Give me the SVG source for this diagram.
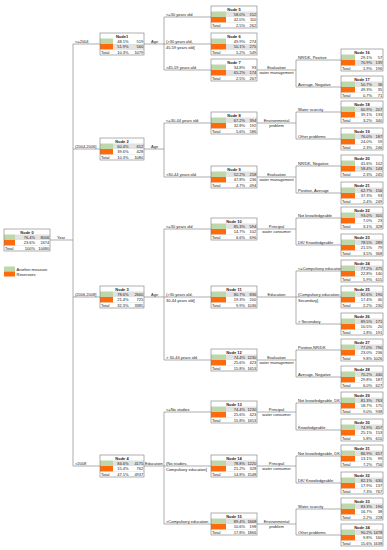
<svg xmlns="http://www.w3.org/2000/svg" width="387" height="550" viewBox="0 0 387 550">
<style>
text{font-family:"Liberation Sans",Arial,sans-serif;font-size:4px;fill:#222}
.h{font-weight:bold;text-anchor:middle}
.r{text-anchor:end}
.m{text-anchor:middle}
.box{fill:none;stroke:#7a7a7a;stroke-width:0.6}
.bg{fill:#fff}
.g{fill:#bdd7ab}
.o{fill:#ff6a0a}
.hl{fill:#e2e2e2}
.sep{stroke:#c8c8c8;stroke-width:0.3}
#connectors path{fill:none;stroke:#8a8a8a;stroke-width:0.7}
</style>
<rect width="387" height="550" fill="#fff"/>
<g id="connectors">
<path d="M50,240H73M73,44V466M73,44H100M73,149H100M73,297H100M73,466H100"/>
<path d="M144,44H164M164,17V70M164,17H211M164,44H211M164,70H211"/>
<path d="M144,149H164M164,123V177M164,123H211M164,177H211"/>
<path d="M144,297H164M164,229V360M164,229H211M164,297H211M164,360H211"/>
<path d="M144,466H164M164,412V524M164,412H211M164,466H211M164,524H211"/>
<path d="M257,70H296M296,60V87M296,60H341M296,87H341"/>
<path d="M257,123H296M296,112V139M296,112H341M296,139H341"/>
<path d="M257,177H296M296,166V193M296,166H341M296,193H341"/>
<path d="M257,229H296M296,218V245M296,218H341M296,245H341"/>
<path d="M257,297H296M296,271V324M296,271H341M296,297H341M296,324H341"/>
<path d="M257,360H296M296,350V377M296,350H341M296,377H341"/>
<path d="M257,412H296M296,403V430M296,403H341M296,430H341"/>
<path d="M257,466H296M296,456V483M296,456H341M296,483H341"/>
<path d="M257,524H296M296,509V535M296,509H341M296,535H341"/>
</g>
<g id="labels">
<text x="57" y="238.8">Year</text>
<text x="75" y="43.2">&lt;=2004</text>
<text x="75" y="148.2">(2004,2006]</text>
<text x="75" y="296.2">(2006,2008]</text>
<text x="75" y="465.2">&gt;2008</text>
<text x="151" y="43">Age</text>
<text x="151" y="148">Age</text>
<text x="151" y="296">Age</text>
<text x="145" y="465">Education</text>
<text x="166" y="16.3">&lt;=30 years old</text>
<text x="166" y="43.3">(&gt;30 years old,</text>
<text x="166" y="48.6">45-59 years old]</text>
<text x="166" y="69.3">&gt;45-59 years old</text>
<text x="166" y="122.3">&lt;=30-44 years old</text>
<text x="166" y="176.3">&gt;30-44 years old</text>
<text x="166" y="228.3">&lt;=30 years old</text>
<text x="166" y="296.3">(&gt;30 years old,</text>
<text x="166" y="301.6">30-44 years old]</text>
<text x="166" y="359.3">&gt; 30-44 years old</text>
<text x="166" y="411.3">&lt;=No studies</text>
<text x="166" y="465.3">(No studies,</text>
<text x="166" y="470.6">Compulsory education]</text>
<text x="166" y="523.3">&gt;Compulsory education</text>
<text class="m" x="276.5" y="69">Evaluation</text>
<text class="m" x="276.5" y="74.3">water management</text>
<text class="m" x="276.5" y="122">Environmental</text>
<text class="m" x="276.5" y="127.3">problem</text>
<text class="m" x="276.5" y="176">Evaluation</text>
<text class="m" x="276.5" y="181.3">water management</text>
<text class="m" x="276.5" y="228">Principal</text>
<text class="m" x="276.5" y="233.3">water consumer</text>
<text class="m" x="276.5" y="296.3">Education</text>
<text class="m" x="276.5" y="359">Evaluation</text>
<text class="m" x="276.5" y="364.3">water management</text>
<text class="m" x="276.5" y="411">Principal</text>
<text class="m" x="276.5" y="416.3">water consumer</text>
<text class="m" x="276.5" y="465">Principal</text>
<text class="m" x="276.5" y="470.3">water consumer</text>
<text class="m" x="276.5" y="523">Environmental</text>
<text class="m" x="276.5" y="528.3">problem</text>
<text x="298" y="59.3">NR/DK, Positive</text>
<text x="298" y="86.3">Average, Negative</text>
<text x="298" y="111.3">Water scarcity</text>
<text x="298" y="138.3">Other problems</text>
<text x="298" y="165.3">NR/DK, Negative</text>
<text x="298" y="192.3">Positive, Average</text>
<text x="298" y="217.3">Not knowledgeable</text>
<text x="298" y="244.3">DK/ Knowledgeable</text>
<text x="298" y="270.3">&lt;=Compulsory education</text>
<text x="298" y="296.3">(Compulsory education,</text>
<text x="298" y="301.6">Secondary]</text>
<text x="298" y="323.3">&gt; Secondary</text>
<text x="298" y="349.3">Positive,NR/DK</text>
<text x="298" y="376.3">Average, Negative</text>
<text x="298" y="402.3">Not knowledgeable, DK</text>
<text x="298" y="429.3">Knowledgeable</text>
<text x="298" y="455.3">Not knowledgeable, DK</text>
<text x="298" y="482.3">DK/ Knowledgeable</text>
<text x="298" y="508.3">Water scarcity</text>
<text x="298" y="534.3">Other problems</text>
</g>
<g id="legend">
<rect class="g" x="4" y="266.5" width="11" height="5"/>
<rect class="o" x="4" y="271.5" width="11" height="5"/>
<text x="16.5" y="270.6">Another measure</text>
<text x="16.5" y="275.6">Reservoirs</text>
</g>

<g id="node0" transform="translate(4,229)"><rect class="bg" width="46" height="22"/><rect class="hl" x="11" y="5.5" width="35" height="5.5"/><rect class="g" y="5.5" width="11" height="5.5"/><rect class="o" y="11" width="11" height="5.5"/><line class="sep" x1="0" y1="16.5" x2="46" y2="16.5"/><rect class="box" width="46" height="22"/><text class="h" x="23" y="4.5">Node 0</text><text class="r" x="31" y="9.9">76.4%</text><text class="r" x="45.3" y="9.9">8006</text><text class="r" x="31" y="15.4">23.6%</text><text class="r" x="45.3" y="15.4">2474</text><text x="1" y="20.9">Total</text><text class="r" x="31" y="20.9">100%</text><text class="r" x="45.3" y="20.9">10480</text></g>

<g id="node1" transform="translate(100,33)"><rect class="bg" width="44" height="22"/><rect class="hl" x="13" y="11" width="31" height="5.5"/><rect class="g" y="5.5" width="13" height="5.5"/><rect class="o" y="11" width="13" height="5.5"/><line class="sep" x1="0" y1="16.5" x2="44" y2="16.5"/><rect class="box" width="44" height="22"/><text class="h" x="22" y="4.5">Node1</text><text class="r" x="28.5" y="9.9">48.1%</text><text class="r" x="43.3" y="9.9">519</text><text class="r" x="28.5" y="15.4">51.9%</text><text class="r" x="43.3" y="15.4">560</text><text x="1" y="20.9">Total</text><text class="r" x="28.5" y="20.9">10.3%</text><text class="r" x="43.3" y="20.9">1079</text></g>
<g id="node2" transform="translate(100,138)"><rect class="bg" width="44" height="22"/><rect class="hl" x="13" y="5.5" width="31" height="5.5"/><rect class="g" y="5.5" width="13" height="5.5"/><rect class="o" y="11" width="13" height="5.5"/><line class="sep" x1="0" y1="16.5" x2="44" y2="16.5"/><rect class="box" width="44" height="22"/><text class="h" x="22" y="4.5">Node 2</text><text class="r" x="28.5" y="9.9">60.4%</text><text class="r" x="43.3" y="9.9">652</text><text class="r" x="28.5" y="15.4">39.6%</text><text class="r" x="43.3" y="15.4">428</text><text x="1" y="20.9">Total</text><text class="r" x="28.5" y="20.9">10.3%</text><text class="r" x="43.3" y="20.9">1080</text></g>
<g id="node3" transform="translate(100,286)"><rect class="bg" width="44" height="22"/><rect class="hl" x="13" y="5.5" width="31" height="5.5"/><rect class="g" y="5.5" width="13" height="5.5"/><rect class="o" y="11" width="13" height="5.5"/><line class="sep" x1="0" y1="16.5" x2="44" y2="16.5"/><rect class="box" width="44" height="22"/><text class="h" x="22" y="4.5">Node 3</text><text class="r" x="28.5" y="9.9">78.6%</text><text class="r" x="43.3" y="9.9">2660</text><text class="r" x="28.5" y="15.4">21.4%</text><text class="r" x="43.3" y="15.4">725</text><text x="1" y="20.9">Total</text><text class="r" x="28.5" y="20.9">32.3%</text><text class="r" x="43.3" y="20.9">3385</text></g>
<g id="node4" transform="translate(100,455)"><rect class="bg" width="44" height="22"/><rect class="hl" x="13" y="5.5" width="31" height="5.5"/><rect class="g" y="5.5" width="13" height="5.5"/><rect class="o" y="11" width="13" height="5.5"/><line class="sep" x1="0" y1="16.5" x2="44" y2="16.5"/><rect class="box" width="44" height="22"/><text class="h" x="22" y="4.5">Node 4</text><text class="r" x="28.5" y="9.9">84.6%</text><text class="r" x="43.3" y="9.9">4175</text><text class="r" x="28.5" y="15.4">15.4%</text><text class="r" x="43.3" y="15.4">762</text><text x="1" y="20.9">Total</text><text class="r" x="28.5" y="20.9">47.1%</text><text class="r" x="43.3" y="20.9">4937</text></g>

<g id="node5" transform="translate(211,6)"><rect class="bg" width="46" height="22"/><rect class="hl" x="15" y="5.5" width="31" height="5.5"/><rect class="g" y="5.5" width="15" height="5.5"/><rect class="o" y="11" width="15" height="5.5"/><line class="sep" x1="0" y1="16.5" x2="46" y2="16.5"/><rect class="box" width="46" height="22"/><text class="h" x="23" y="4.5">Node 5</text><text class="r" x="34" y="9.9">58.0%</text><text class="r" x="45.3" y="9.9">152</text><text class="r" x="34" y="15.4">42.0%</text><text class="r" x="45.3" y="15.4">110</text><text x="1" y="20.9">Total</text><text class="r" x="34" y="20.9">2.5%</text><text class="r" x="45.3" y="20.9">262</text></g>
<g id="node6" transform="translate(211,33)"><rect class="bg" width="46" height="22"/><rect class="hl" x="15" y="11" width="31" height="5.5"/><rect class="g" y="5.5" width="15" height="5.5"/><rect class="o" y="11" width="15" height="5.5"/><line class="sep" x1="0" y1="16.5" x2="46" y2="16.5"/><rect class="box" width="46" height="22"/><text class="h" x="23" y="4.5">Node 6</text><text class="r" x="34" y="9.9">49.9%</text><text class="r" x="45.3" y="9.9">274</text><text class="r" x="34" y="15.4">50.1%</text><text class="r" x="45.3" y="15.4">275</text><text x="1" y="20.9">Total</text><text class="r" x="34" y="20.9">5.2%</text><text class="r" x="45.3" y="20.9">549</text></g>
<g id="node7" transform="translate(211,59)"><rect class="bg" width="46" height="22"/><rect class="hl" x="15" y="11" width="31" height="5.5"/><rect class="g" y="5.5" width="15" height="5.5"/><rect class="o" y="11" width="15" height="5.5"/><line class="sep" x1="0" y1="16.5" x2="46" y2="16.5"/><rect class="box" width="46" height="22"/><text class="h" x="23" y="4.5">Node 7</text><text class="r" x="34" y="9.9">34.8%</text><text class="r" x="45.3" y="9.9">93</text><text class="r" x="34" y="15.4">65.2%</text><text class="r" x="45.3" y="15.4">174</text><text x="1" y="20.9">Total</text><text class="r" x="34" y="20.9">2.5%</text><text class="r" x="45.3" y="20.9">267</text></g>
<g id="node8" transform="translate(211,112)"><rect class="bg" width="46" height="22"/><rect class="hl" x="15" y="5.5" width="31" height="5.5"/><rect class="g" y="5.5" width="15" height="5.5"/><rect class="o" y="11" width="15" height="5.5"/><line class="sep" x1="0" y1="16.5" x2="46" y2="16.5"/><rect class="box" width="46" height="22"/><text class="h" x="23" y="4.5">Node 8</text><text class="r" x="34" y="9.9">67.2%</text><text class="r" x="45.3" y="9.9">394</text><text class="r" x="34" y="15.4">32.8%</text><text class="r" x="45.3" y="15.4">192</text><text x="1" y="20.9">Total</text><text class="r" x="34" y="20.9">5.6%</text><text class="r" x="45.3" y="20.9">586</text></g>
<g id="node9" transform="translate(211,166)"><rect class="bg" width="46" height="22"/><rect class="hl" x="15" y="5.5" width="31" height="5.5"/><rect class="g" y="5.5" width="15" height="5.5"/><rect class="o" y="11" width="15" height="5.5"/><line class="sep" x1="0" y1="16.5" x2="46" y2="16.5"/><rect class="box" width="46" height="22"/><text class="h" x="23" y="4.5">Node 9</text><text class="r" x="34" y="9.9">52.2%</text><text class="r" x="45.3" y="9.9">258</text><text class="r" x="34" y="15.4">47.8%</text><text class="r" x="45.3" y="15.4">236</text><text x="1" y="20.9">Total</text><text class="r" x="34" y="20.9">4.7%</text><text class="r" x="45.3" y="20.9">494</text></g>
<g id="node10" transform="translate(211,218)"><rect class="bg" width="46" height="22"/><rect class="hl" x="15" y="5.5" width="31" height="5.5"/><rect class="g" y="5.5" width="15" height="5.5"/><rect class="o" y="11" width="15" height="5.5"/><line class="sep" x1="0" y1="16.5" x2="46" y2="16.5"/><rect class="box" width="46" height="22"/><text class="h" x="23" y="4.5">Node 10</text><text class="r" x="34" y="9.9">85.3%</text><text class="r" x="45.3" y="9.9">594</text><text class="r" x="34" y="15.4">14.7%</text><text class="r" x="45.3" y="15.4">102</text><text x="1" y="20.9">Total</text><text class="r" x="34" y="20.9">6.6%</text><text class="r" x="45.3" y="20.9">696</text></g>
<g id="node11" transform="translate(211,286)"><rect class="bg" width="46" height="22"/><rect class="hl" x="15" y="5.5" width="31" height="5.5"/><rect class="g" y="5.5" width="15" height="5.5"/><rect class="o" y="11" width="15" height="5.5"/><line class="sep" x1="0" y1="16.5" x2="46" y2="16.5"/><rect class="box" width="46" height="22"/><text class="h" x="23" y="4.5">Node 11</text><text class="r" x="34" y="9.9">80.7%</text><text class="r" x="45.3" y="9.9">836</text><text class="r" x="34" y="15.4">19.3%</text><text class="r" x="45.3" y="15.4">200</text><text x="1" y="20.9">Total</text><text class="r" x="34" y="20.9">9.9%</text><text class="r" x="45.3" y="20.9">1036</text></g>
<g id="node12" transform="translate(211,349)"><rect class="bg" width="46" height="22"/><rect class="hl" x="15" y="5.5" width="31" height="5.5"/><rect class="g" y="5.5" width="15" height="5.5"/><rect class="o" y="11" width="15" height="5.5"/><line class="sep" x1="0" y1="16.5" x2="46" y2="16.5"/><rect class="box" width="46" height="22"/><text class="h" x="23" y="4.5">Node 12</text><text class="r" x="34" y="9.9">74.4%</text><text class="r" x="45.3" y="9.9">1230</text><text class="r" x="34" y="15.4">25.6%</text><text class="r" x="45.3" y="15.4">423</text><text x="1" y="20.9">Total</text><text class="r" x="34" y="20.9">15.8%</text><text class="r" x="45.3" y="20.9">1653</text></g>
<g id="node13" transform="translate(211,401)"><rect class="bg" width="46" height="22"/><rect class="hl" x="15" y="5.5" width="31" height="5.5"/><rect class="g" y="5.5" width="15" height="5.5"/><rect class="o" y="11" width="15" height="5.5"/><line class="sep" x1="0" y1="16.5" x2="46" y2="16.5"/><rect class="box" width="46" height="22"/><text class="h" x="23" y="4.5">Node 13</text><text class="r" x="34" y="9.9">74.4%</text><text class="r" x="45.3" y="9.9">1230</text><text class="r" x="34" y="15.4">25.6%</text><text class="r" x="45.3" y="15.4">423</text><text x="1" y="20.9">Total</text><text class="r" x="34" y="20.9">15.8%</text><text class="r" x="45.3" y="20.9">1653</text></g>
<g id="node14" transform="translate(211,455)"><rect class="bg" width="46" height="22"/><rect class="hl" x="15" y="5.5" width="31" height="5.5"/><rect class="g" y="5.5" width="15" height="5.5"/><rect class="o" y="11" width="15" height="5.5"/><line class="sep" x1="0" y1="16.5" x2="46" y2="16.5"/><rect class="box" width="46" height="22"/><text class="h" x="23" y="4.5">Node 14</text><text class="r" x="34" y="9.9">78.8%</text><text class="r" x="45.3" y="9.9">1220</text><text class="r" x="34" y="15.4">21.2%</text><text class="r" x="45.3" y="15.4">328</text><text x="1" y="20.9">Total</text><text class="r" x="34" y="20.9">14.8%</text><text class="r" x="45.3" y="20.9">1548</text></g>
<g id="node15" transform="translate(211,513)"><rect class="bg" width="46" height="22"/><rect class="hl" x="15" y="5.5" width="31" height="5.5"/><rect class="g" y="5.5" width="15" height="5.5"/><rect class="o" y="11" width="15" height="5.5"/><line class="sep" x1="0" y1="16.5" x2="46" y2="16.5"/><rect class="box" width="46" height="22"/><text class="h" x="23" y="4.5">Node 15</text><text class="r" x="34" y="9.9">89.4%</text><text class="r" x="45.3" y="9.9">1668</text><text class="r" x="34" y="15.4">10.6%</text><text class="r" x="45.3" y="15.4">198</text><text x="1" y="20.9">Total</text><text class="r" x="34" y="20.9">17.8%</text><text class="r" x="45.3" y="20.9">1866</text></g>

<g id="node16" transform="translate(341,49)"><rect class="bg" width="42" height="22"/><rect class="hl" x="14" y="11" width="28" height="5.5"/><rect class="g" y="5.5" width="14" height="5.5"/><rect class="o" y="11" width="14" height="5.5"/><line class="sep" x1="0" y1="16.5" x2="42" y2="16.5"/><rect class="box" width="42" height="22"/><text class="h" x="21" y="4.5">Node 16</text><text class="r" x="31" y="9.9">29.1%</text><text class="r" x="41.3" y="9.9">57</text><text class="r" x="31" y="15.4">70.9%</text><text class="r" x="41.3" y="15.4">139</text><text x="1" y="20.9">Total</text><text class="r" x="31" y="20.9">1.9%</text><text class="r" x="41.3" y="20.9">196</text></g>
<g id="node17" transform="translate(341,76)"><rect class="bg" width="42" height="22"/><rect class="hl" x="14" y="5.5" width="28" height="5.5"/><rect class="g" y="5.5" width="14" height="5.5"/><rect class="o" y="11" width="14" height="5.5"/><line class="sep" x1="0" y1="16.5" x2="42" y2="16.5"/><rect class="box" width="42" height="22"/><text class="h" x="21" y="4.5">Node 17</text><text class="r" x="31" y="9.9">50.7%</text><text class="r" x="41.3" y="9.9">36</text><text class="r" x="31" y="15.4">49.3%</text><text class="r" x="41.3" y="15.4">35</text><text x="1" y="20.9">Total</text><text class="r" x="31" y="20.9">0.7%</text><text class="r" x="41.3" y="20.9">71</text></g>
<g id="node18" transform="translate(341,101)"><rect class="bg" width="42" height="22"/><rect class="hl" x="14" y="5.5" width="28" height="5.5"/><rect class="g" y="5.5" width="14" height="5.5"/><rect class="o" y="11" width="14" height="5.5"/><line class="sep" x1="0" y1="16.5" x2="42" y2="16.5"/><rect class="box" width="42" height="22"/><text class="h" x="21" y="4.5">Node 18</text><text class="r" x="31" y="9.9">60.9%</text><text class="r" x="41.3" y="9.9">207</text><text class="r" x="31" y="15.4">39.1%</text><text class="r" x="41.3" y="15.4">133</text><text x="1" y="20.9">Total</text><text class="r" x="31" y="20.9">3.2%</text><text class="r" x="41.3" y="20.9">340</text></g>
<g id="node19" transform="translate(341,128)"><rect class="bg" width="42" height="22"/><rect class="hl" x="14" y="5.5" width="28" height="5.5"/><rect class="g" y="5.5" width="14" height="5.5"/><rect class="o" y="11" width="14" height="5.5"/><line class="sep" x1="0" y1="16.5" x2="42" y2="16.5"/><rect class="box" width="42" height="22"/><text class="h" x="21" y="4.5">Node 19</text><text class="r" x="31" y="9.9">76.0%</text><text class="r" x="41.3" y="9.9">187</text><text class="r" x="31" y="15.4">24.0%</text><text class="r" x="41.3" y="15.4">59</text><text x="1" y="20.9">Total</text><text class="r" x="31" y="20.9">2.3%</text><text class="r" x="41.3" y="20.9">246</text></g>
<g id="node20" transform="translate(341,155)"><rect class="bg" width="42" height="22"/><rect class="hl" x="14" y="11" width="28" height="5.5"/><rect class="g" y="5.5" width="14" height="5.5"/><rect class="o" y="11" width="14" height="5.5"/><line class="sep" x1="0" y1="16.5" x2="42" y2="16.5"/><rect class="box" width="42" height="22"/><text class="h" x="21" y="4.5">Node 20</text><text class="r" x="31" y="9.9">41.6%</text><text class="r" x="41.3" y="9.9">102</text><text class="r" x="31" y="15.4">58.4%</text><text class="r" x="41.3" y="15.4">143</text><text x="1" y="20.9">Total</text><text class="r" x="31" y="20.9">2.3%</text><text class="r" x="41.3" y="20.9">245</text></g>
<g id="node21" transform="translate(341,182)"><rect class="bg" width="42" height="22"/><rect class="hl" x="14" y="5.5" width="28" height="5.5"/><rect class="g" y="5.5" width="14" height="5.5"/><rect class="o" y="11" width="14" height="5.5"/><line class="sep" x1="0" y1="16.5" x2="42" y2="16.5"/><rect class="box" width="42" height="22"/><text class="h" x="21" y="4.5">Node 21</text><text class="r" x="31" y="9.9">62.7%</text><text class="r" x="41.3" y="9.9">156</text><text class="r" x="31" y="15.4">37.3%</text><text class="r" x="41.3" y="15.4">93</text><text x="1" y="20.9">Total</text><text class="r" x="31" y="20.9">2.4%</text><text class="r" x="41.3" y="20.9">249</text></g>
<g id="node22" transform="translate(341,207)"><rect class="bg" width="42" height="22"/><rect class="hl" x="14" y="5.5" width="28" height="5.5"/><rect class="g" y="5.5" width="14" height="5.5"/><rect class="o" y="11" width="14" height="5.5"/><line class="sep" x1="0" y1="16.5" x2="42" y2="16.5"/><rect class="box" width="42" height="22"/><text class="h" x="21" y="4.5">Node 22</text><text class="r" x="31" y="9.9">93.0%</text><text class="r" x="41.3" y="9.9">305</text><text class="r" x="31" y="15.4">7.0%</text><text class="r" x="41.3" y="15.4">23</text><text x="1" y="20.9">Total</text><text class="r" x="31" y="20.9">3.1%</text><text class="r" x="41.3" y="20.9">328</text></g>
<g id="node23" transform="translate(341,234)"><rect class="bg" width="42" height="22"/><rect class="hl" x="14" y="5.5" width="28" height="5.5"/><rect class="g" y="5.5" width="14" height="5.5"/><rect class="o" y="11" width="14" height="5.5"/><line class="sep" x1="0" y1="16.5" x2="42" y2="16.5"/><rect class="box" width="42" height="22"/><text class="h" x="21" y="4.5">Node 23</text><text class="r" x="31" y="9.9">78.5%</text><text class="r" x="41.3" y="9.9">289</text><text class="r" x="31" y="15.4">21.5%</text><text class="r" x="41.3" y="15.4">79</text><text x="1" y="20.9">Total</text><text class="r" x="31" y="20.9">3.5%</text><text class="r" x="41.3" y="20.9">368</text></g>
<g id="node24" transform="translate(341,260)"><rect class="bg" width="42" height="22"/><rect class="hl" x="14" y="5.5" width="28" height="5.5"/><rect class="g" y="5.5" width="14" height="5.5"/><rect class="o" y="11" width="14" height="5.5"/><line class="sep" x1="0" y1="16.5" x2="42" y2="16.5"/><rect class="box" width="42" height="22"/><text class="h" x="21" y="4.5">Node 24</text><text class="r" x="31" y="9.9">77.2%</text><text class="r" x="41.3" y="9.9">475</text><text class="r" x="31" y="15.4">22.8%</text><text class="r" x="41.3" y="15.4">140</text><text x="1" y="20.9">Total</text><text class="r" x="31" y="20.9">5.9%</text><text class="r" x="41.3" y="20.9">615</text></g>
<g id="node25" transform="translate(341,286)"><rect class="bg" width="42" height="22"/><rect class="hl" x="14" y="5.5" width="28" height="5.5"/><rect class="g" y="5.5" width="14" height="5.5"/><rect class="o" y="11" width="14" height="5.5"/><line class="sep" x1="0" y1="16.5" x2="42" y2="16.5"/><rect class="box" width="42" height="22"/><text class="h" x="21" y="4.5">Node 25</text><text class="r" x="31" y="9.9">82.6%</text><text class="r" x="41.3" y="9.9">190</text><text class="r" x="31" y="15.4">17.4%</text><text class="r" x="41.3" y="15.4">40</text><text x="1" y="20.9">Total</text><text class="r" x="31" y="20.9">2.2%</text><text class="r" x="41.3" y="20.9">230</text></g>
<g id="node26" transform="translate(341,313)"><rect class="bg" width="42" height="22"/><rect class="hl" x="14" y="5.5" width="28" height="5.5"/><rect class="g" y="5.5" width="14" height="5.5"/><rect class="o" y="11" width="14" height="5.5"/><line class="sep" x1="0" y1="16.5" x2="42" y2="16.5"/><rect class="box" width="42" height="22"/><text class="h" x="21" y="4.5">Node 26</text><text class="r" x="31" y="9.9">89.5%</text><text class="r" x="41.3" y="9.9">171</text><text class="r" x="31" y="15.4">10.5%</text><text class="r" x="41.3" y="15.4">20</text><text x="1" y="20.9">Total</text><text class="r" x="31" y="20.9">1.8%</text><text class="r" x="41.3" y="20.9">191</text></g>
<g id="node27" transform="translate(341,339)"><rect class="bg" width="42" height="22"/><rect class="hl" x="14" y="5.5" width="28" height="5.5"/><rect class="g" y="5.5" width="14" height="5.5"/><rect class="o" y="11" width="14" height="5.5"/><line class="sep" x1="0" y1="16.5" x2="42" y2="16.5"/><rect class="box" width="42" height="22"/><text class="h" x="21" y="4.5">Node 27</text><text class="r" x="31" y="9.9">77.0%</text><text class="r" x="41.3" y="9.9">790</text><text class="r" x="31" y="15.4">23.0%</text><text class="r" x="41.3" y="15.4">236</text><text x="1" y="20.9">Total</text><text class="r" x="31" y="20.9">9.8%</text><text class="r" x="41.3" y="20.9">1026</text></g>
<g id="node28" transform="translate(341,366)"><rect class="bg" width="42" height="22"/><rect class="hl" x="14" y="5.5" width="28" height="5.5"/><rect class="g" y="5.5" width="14" height="5.5"/><rect class="o" y="11" width="14" height="5.5"/><line class="sep" x1="0" y1="16.5" x2="42" y2="16.5"/><rect class="box" width="42" height="22"/><text class="h" x="21" y="4.5">Node 28</text><text class="r" x="31" y="9.9">70.2%</text><text class="r" x="41.3" y="9.9">440</text><text class="r" x="31" y="15.4">29.8%</text><text class="r" x="41.3" y="15.4">187</text><text x="1" y="20.9">Total</text><text class="r" x="31" y="20.9">6.0%</text><text class="r" x="41.3" y="20.9">627</text></g>
<g id="node29" transform="translate(341,392)"><rect class="bg" width="42" height="22"/><rect class="hl" x="14" y="5.5" width="28" height="5.5"/><rect class="g" y="5.5" width="14" height="5.5"/><rect class="o" y="11" width="14" height="5.5"/><line class="sep" x1="0" y1="16.5" x2="42" y2="16.5"/><rect class="box" width="42" height="22"/><text class="h" x="21" y="4.5">Node 29</text><text class="r" x="31" y="9.9">81.3%</text><text class="r" x="41.3" y="9.9">763</text><text class="r" x="31" y="15.4">18.7%</text><text class="r" x="41.3" y="15.4">175</text><text x="1" y="20.9">Total</text><text class="r" x="31" y="20.9">9.0%</text><text class="r" x="41.3" y="20.9">938</text></g>
<g id="node30" transform="translate(341,419)"><rect class="bg" width="42" height="22"/><rect class="hl" x="14" y="5.5" width="28" height="5.5"/><rect class="g" y="5.5" width="14" height="5.5"/><rect class="o" y="11" width="14" height="5.5"/><line class="sep" x1="0" y1="16.5" x2="42" y2="16.5"/><rect class="box" width="42" height="22"/><text class="h" x="21" y="4.5">Node 30</text><text class="r" x="31" y="9.9">74.9%</text><text class="r" x="41.3" y="9.9">457</text><text class="r" x="31" y="15.4">25.1%</text><text class="r" x="41.3" y="15.4">153</text><text x="1" y="20.9">Total</text><text class="r" x="31" y="20.9">5.8%</text><text class="r" x="41.3" y="20.9">610</text></g>
<g id="node31" transform="translate(341,445)"><rect class="bg" width="42" height="22"/><rect class="hl" x="14" y="5.5" width="28" height="5.5"/><rect class="g" y="5.5" width="14" height="5.5"/><rect class="o" y="11" width="14" height="5.5"/><line class="sep" x1="0" y1="16.5" x2="42" y2="16.5"/><rect class="box" width="42" height="22"/><text class="h" x="21" y="4.5">Node 31</text><text class="r" x="31" y="9.9">86.9%</text><text class="r" x="41.3" y="9.9">657</text><text class="r" x="31" y="15.4">13.1%</text><text class="r" x="41.3" y="15.4">99</text><text x="1" y="20.9">Total</text><text class="r" x="31" y="20.9">7.2%</text><text class="r" x="41.3" y="20.9">756</text></g>
<g id="node32" transform="translate(341,472)"><rect class="bg" width="42" height="22"/><rect class="hl" x="14" y="5.5" width="28" height="5.5"/><rect class="g" y="5.5" width="14" height="5.5"/><rect class="o" y="11" width="14" height="5.5"/><line class="sep" x1="0" y1="16.5" x2="42" y2="16.5"/><rect class="box" width="42" height="22"/><text class="h" x="21" y="4.5">Node 32</text><text class="r" x="31" y="9.9">82.1%</text><text class="r" x="41.3" y="9.9">630</text><text class="r" x="31" y="15.4">17.9%</text><text class="r" x="41.3" y="15.4">137</text><text x="1" y="20.9">Total</text><text class="r" x="31" y="20.9">7.3%</text><text class="r" x="41.3" y="20.9">767</text></g>
<g id="node33" transform="translate(341,498)"><rect class="bg" width="42" height="22"/><rect class="hl" x="14" y="5.5" width="28" height="5.5"/><rect class="g" y="5.5" width="14" height="5.5"/><rect class="o" y="11" width="14" height="5.5"/><line class="sep" x1="0" y1="16.5" x2="42" y2="16.5"/><rect class="box" width="42" height="22"/><text class="h" x="21" y="4.5">Node 33</text><text class="r" x="31" y="9.9">83.3%</text><text class="r" x="41.3" y="9.9">190</text><text class="r" x="31" y="15.4">16.7%</text><text class="r" x="41.3" y="15.4">38</text><text x="1" y="20.9">Total</text><text class="r" x="31" y="20.9">2.2%</text><text class="r" x="41.3" y="20.9">228</text></g>
<g id="node34" transform="translate(341,524)"><rect class="bg" width="42" height="22"/><rect class="hl" x="14" y="5.5" width="28" height="5.5"/><rect class="g" y="5.5" width="14" height="5.5"/><rect class="o" y="11" width="14" height="5.5"/><line class="sep" x1="0" y1="16.5" x2="42" y2="16.5"/><rect class="box" width="42" height="22"/><text class="h" x="21" y="4.5">Node 34</text><text class="r" x="31" y="9.9">90.2%</text><text class="r" x="41.3" y="9.9">1478</text><text class="r" x="31" y="15.4">9.8%</text><text class="r" x="41.3" y="15.4">160</text><text x="1" y="20.9">Total</text><text class="r" x="31" y="20.9">15.6%</text><text class="r" x="41.3" y="20.9">1638</text></g>
</svg>
